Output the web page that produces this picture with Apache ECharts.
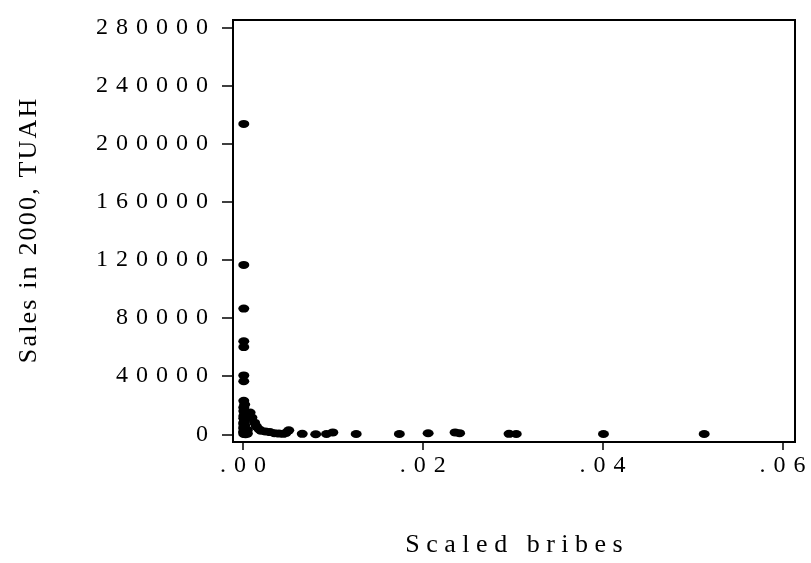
<!DOCTYPE html>
<html>
<head>
    <meta charset="UTF-8">
    <script src="https://cdn.jsdelivr.net/npm/echarts@6/dist/echarts.min.js"></script>
</head>
<body style="margin:0;background:#fff;">
    <div id="main" style="width: 811px; height: 563px;"></div>
    <script>
        // scaled bribes (x) and sales in 2000 (y)
        var bribes = [
            0.0001, 0.0001, 0.0001, 0.0001, 0.0001, 0.0001, 0.0001,
            0.0001, 0.0002, 0.0001, 0.0001, 0.0002, 0.0001, 0.0001, 0.0002, 0.0001, 0.0001,
            0.0002, 0.0001, 0.0001, 0.0002, 0.0001, 0.0001, 0.0002, 0.0001, 0.0003, 0.0004,
            0.0005, 0.0005,
            0.0008, 0.0010, 0.0013, 0.0015, 0.0018, 0.0020, 0.0025, 0.0030, 0.0035, 0.0040,
            0.0045, 0.0048, 0.0051,
            0.0066, 0.0081, 0.0093, 0.0100, 0.0126, 0.0174, 0.0206, 0.0236, 0.0241,
            0.0296, 0.0304, 0.0401, 0.0513
        ];
        var sales = [
            213500, 116500, 86500, 64000, 60000, 40500, 36500,
            23000, 20500, 18500, 16000, 14000, 12500, 11000, 9500, 8000, 7000,
            6000, 5000, 4000, 3000, 2000, 1200, 600, 200, 100, 1500,
            3000, 500,
            15000, 11500, 8000, 5500, 3500, 2500, 2000, 1500, 800, 500,
            300, 1000, 2700,
            300, 0, 200, 1300, 200, 200, 700, 1300, 800,
            300, 200, 200, 200
        ];
        var xTicks = [0, 0.02, 0.04, 0.06];
        var yTicks = [0, 40000, 80000, 120000, 160000, 200000, 240000, 280000];

        // the original labels are letter-spaced; fake it with narrow spaces
        var spaced = function (s, sep) {
            return s.split('').join(sep);
        };

        var points = [];
        for (var i = 0; i < bribes.length; i++) {
            points.push([bribes[i], sales[i]]);
        }

        var myChart = echarts.init(document.getElementById('main'));
        var font = 'Liberation Serif, Times New Roman, serif';

        var option = {
            backgroundColor: '#fff',
            animation: false,
            grid: {
                left: 233,
                right: 16,
                top: 20,
                bottom: 108,
                show: true,
                borderColor: '#000',
                borderWidth: 2,
                backgroundColor: 'transparent'
            },
            xAxis: {
                type: 'value',
                min: -0.0011,
                max: 0.0614,
                name: spaced('Scaled bribes', '\u2005'),
                nameLocation: 'middle',
                nameGap: 90,
                nameTextStyle: { fontFamily: font, fontSize: 26, color: '#000' },
                splitLine: { show: false },
                axisLine: { onZero: false, lineStyle: { color: '#000', width: 2 } },
                axisTick: {
                    customValues: xTicks,
                    length: 8,
                    lineStyle: { color: '#000', width: 1.5 }
                },
                axisLabel: {
                    customValues: xTicks,
                    margin: 12,
                    fontFamily: font,
                    fontSize: 24,
                    color: '#000',
                    formatter: function (v) {
                        return spaced(v.toFixed(2).slice(1), '\u2004');
                    }
                }
            },
            yAxis: {
                type: 'value',
                min: -5300,
                max: 285000,
                name: spaced('Sales in 2000, TUAH', '\u200A'),
                nameLocation: 'middle',
                nameGap: 191,
                nameTextStyle: { fontFamily: font, fontSize: 26, color: '#000' },
                splitLine: { show: false },
                axisLine: { onZero: false, lineStyle: { color: '#000', width: 2 } },
                axisTick: {
                    customValues: yTicks,
                    length: 11,
                    lineStyle: { color: '#000', width: 1.5 }
                },
                axisLabel: {
                    customValues: yTicks,
                    margin: 25,
                    fontFamily: font,
                    fontSize: 24,
                    color: '#000',
                    formatter: function (v) {
                        return spaced(String(v), '\u2004');
                    }
                }
            },
            series: [{
                type: 'scatter',
                symbol: 'circle',
                symbolSize: [11, 8],
                itemStyle: { color: '#000', opacity: 1 },
                data: points
            }]
        };
        myChart.setOption(option);
    </script>
</body>
</html>
